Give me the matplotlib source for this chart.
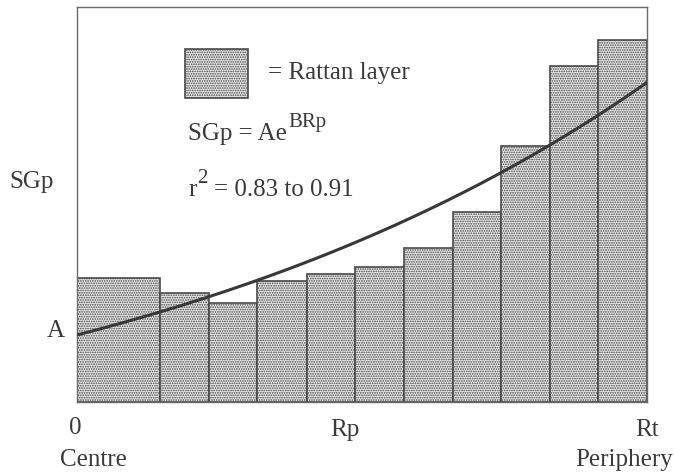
import matplotlib
matplotlib.use("Agg")
import matplotlib.pyplot as plt
import numpy as np
from matplotlib.patches import Rectangle

# ---- data (Rp normalised to Rt = 1; SGp in arbitrary units) ----
bar_edges = [0.0, 0.145, 0.231, 0.315, 0.403, 0.487, 0.574, 0.660, 0.744, 0.830, 0.914, 1.0]
sgp_values = [2.04, 1.89, 1.79, 2.01, 2.08, 2.15, 2.34, 2.70, 3.36, 4.16, 4.42]
A_coef = 1.47
B_coef = 1.0
y_limits = (0.80, 4.75)

plt.rcParams['font.family'] = ['Liberation Serif', 'DejaVu Serif']
plt.rcParams['hatch.linewidth'] = 0.8
plt.rcParams['hatch.color'] = '#8a8a8a'

W, H = 674, 474
fig = plt.figure(figsize=(W / 100, H / 100), dpi=100)
L, R, T, Bm = 77, 647, 7, 402
ax = fig.add_axes([L / W, 1 - Bm / H, (R - L) / W, (Bm - T) / H])

edge_col = '#4a4a4a'
face_col = '#e4e4e4'
txt_col = '#3a3a3a'

lefts = np.array(bar_edges[:-1])
widths = np.diff(bar_edges)
ax.bar(lefts, np.array(sgp_values) - y_limits[0], width=widths, bottom=y_limits[0],
       align='edge', facecolor=face_col, edgecolor=edge_col, linewidth=1.2,
       hatch='.......', zorder=2)

t = np.linspace(0, 1, 200)
ax.plot(t, A_coef * np.exp(B_coef * t), color='#383838', linewidth=2.2, zorder=3)

ax.set_xlim(0, 1)
ax.set_ylim(*y_limits)
ax.set_xticks([])
ax.set_yticks([])
for s in ax.spines.values():
    s.set_color('#6a6a6a')
    s.set_linewidth(1.0)

# legend swatch
ax.add_patch(Rectangle((0.189, 0.770), 0.111, 0.124, transform=ax.transAxes,
                       facecolor=face_col, edgecolor=edge_col, linewidth=1.2,
                       hatch='.......', zorder=4))

fs = 18
def ftext(x, y, s, ha='center', va='center', size=fs, **kw):
    return fig.text(x / W, 1 - y / H, s, ha=ha, va=va, fontsize=size, color=txt_col, **kw)

ftext(268, 73, '= Rattan layer', ha='left')
base = ftext(188, 140, 'SGp = Ae', ha='left', va='baseline')
r_txt = ftext(188, 196, 'r', ha='left', va='baseline')
fig.canvas.draw()
rend = fig.canvas.get_renderer()
bb = base.get_window_extent(rend)
fig.text(bb.x1 / W + 0.002, 1 - 127 / H, 'BRp', ha='left', va='baseline',
         fontsize=15, color=txt_col)
rb = r_txt.get_window_extent(rend)
sup = fig.text(rb.x1 / W + 0.001, 1 - 183 / H, '2', ha='left', va='baseline',
               fontsize=15, color=txt_col)
fig.canvas.draw()
sb = sup.get_window_extent(rend)
fig.text(sb.x1 / W + 0.010, 1 - 196 / H, '= 0.83 to 0.91', ha='left', va='baseline',
         fontsize=fs, color=txt_col)

ftext(32, 182, 'SGp')
ftext(56, 331, 'A')
ftext(75, 428, '0')
ftext(60, 460, 'Centre', ha='left')
ftext(345, 430, 'Rp')
ftext(647, 430, 'Rt')
ftext(673, 460, 'Periphery', ha='right')

fig.savefig('out.png', dpi=100)
